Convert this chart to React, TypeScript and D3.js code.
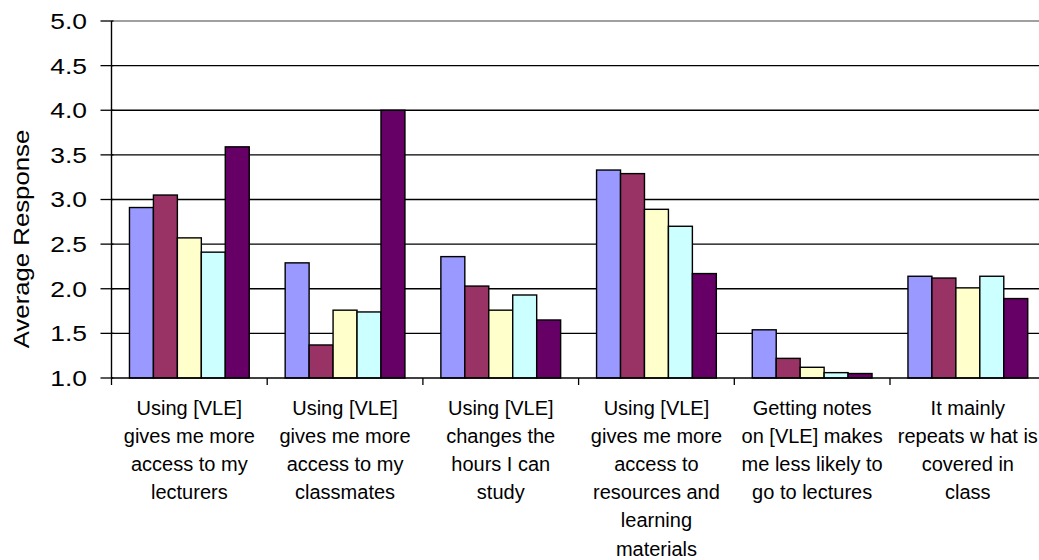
import React from "react";
import * as d3 from "d3";

const categories: string[][] = [
  ["Using [VLE]", "gives me more", "access to my", "lecturers"],
  ["Using [VLE]", "gives me more", "access to my", "classmates"],
  ["Using [VLE]", "changes the", "hours I can", "study"],
  ["Using [VLE]", "gives me more", "access to", "resources and", "learning", "materials"],
  ["Getting notes", "on [VLE] makes", "me less likely to", "go to lectures"],
  ["It mainly", "repeats w hat is", "covered in", "class"],
];

const series = ["S1", "S2", "S3", "S4", "S5"];
const colors = ["#9999FF", "#993366", "#FFFFCC", "#CCFFFF", "#660066"];

const s1 = [2.91, 2.29, 2.36, 3.33, 1.54, 2.14];
const s2 = [3.05, 1.37, 2.03, 3.29, 1.22, 2.12];
const s3 = [2.57, 1.76, 1.76, 2.89, 1.12, 2.01];
const s4 = [2.41, 1.74, 1.93, 2.7, 1.06, 2.14];
const s5 = [3.59, 4.0, 1.65, 2.17, 1.05, 1.89];
const values = [s1, s2, s3, s4, s5];

const yTicks = [1.0, 1.5, 2.0, 2.5, 3.0, 3.5, 4.0, 4.5, 5.0];

const W = 1039;
const H = 560;
const left = 111.5;
const top = 21;
const bottom = 378;
const catStep = 155.7;

export default function App() {
  const idx = categories.map((_, i) => i);
  const x = d3
    .scaleBand<number>()
    .domain(idx)
    .range([left, left + catStep * categories.length])
    .paddingInner(0)
    .paddingOuter(0);
  const xs = d3
    .scaleBand<number>()
    .domain(series.map((_, i) => i))
    .range([0, x.bandwidth()])
    .paddingInner(0)
    .paddingOuter(0.75);
  const y = d3.scaleLinear().domain([1, 5]).range([bottom, top]);

  const font = "Arial, 'Liberation Sans', sans-serif";

  return (
    <svg
      width={W}
      height={H}
      style={{ position: "absolute", left: 0, top: 0, background: "#fff" }}
    >
      <rect x={0} y={0} width={W} height={H} fill="#fff" />
      {/* gridlines */}
      {yTicks.slice(1).map((t) => (
        <line
          key={"g" + t}
          x1={left}
          x2={W + 20}
          y1={y(t)}
          y2={y(t)}
          stroke={t === 5 ? "#808080" : "#000"}
          strokeWidth={1.3}
        />
      ))}
      {/* bars */}
      {idx.map((ci) =>
        series.map((_, si) => {
          const v = values[si][ci];
          const bx = (x(ci) as number) + (xs(si) as number);
          return (
            <rect
              key={ci + "-" + si}
              x={bx}
              y={y(v)}
              width={xs.bandwidth()}
              height={y(1) - y(v)}
              fill={colors[si]}
              stroke="#000"
              strokeWidth={1.4}
            />
          );
        })
      )}
      {/* axes */}
      <line x1={left} x2={left} y1={top} y2={bottom} stroke="#000" strokeWidth={1.4} />
      <line x1={left} x2={W + 20} y1={bottom} y2={bottom} stroke="#000" strokeWidth={1.4} />
      {yTicks.map((t) => (
        <g key={"t" + t}>
          <line x1={left - 11} x2={left + 2} y1={y(t)} y2={y(t)} stroke="#000" strokeWidth={1.3} />
          <text
            transform={`translate(87, ${y(t)}) scale(1.2, 1)`}
            dy="0.36em"
            textAnchor="end"
            fontFamily={font}
            fontSize={22}
            fill="#000"
          >
            {t.toFixed(1)}
          </text>
        </g>
      ))}
      {d3.range(categories.length + 1).map((i) => (
        <line
          key={"xt" + i}
          x1={left + i * catStep}
          x2={left + i * catStep}
          y1={bottom}
          y2={bottom + 7}
          stroke="#000"
          strokeWidth={1.3}
        />
      ))}
      {categories.map((lines, ci) => (
        <text
          key={"c" + ci}
          x={(x(ci) as number) + x.bandwidth() / 2}
          y={415}
          textAnchor="middle"
          fontFamily={font}
          fontSize={20}
          fill="#000"
        >
          {lines.map((l, li) => (
            <tspan key={li} x={(x(ci) as number) + x.bandwidth() / 2} y={415 + li * 28.1}>
              {l}
            </tspan>
          ))}
        </text>
      ))}
      <text
        transform={`translate(29, ${239}) rotate(-90) scale(1.17, 1)`}
        textAnchor="middle"
        fontFamily={font}
        fontSize={22}
        fill="#000"
      >
        Average Response
      </text>
    </svg>
  );
}
